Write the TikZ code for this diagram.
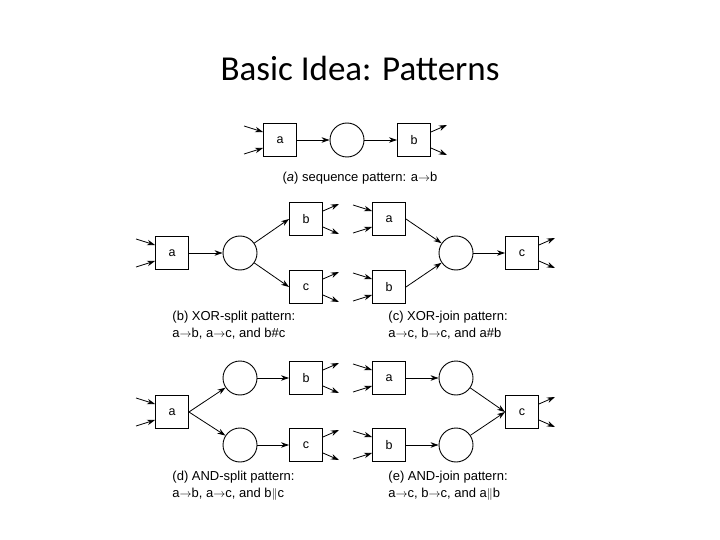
\documentclass[tikz,border=0pt]{standalone}
\usepackage{fontspec}
\setmainfont{Liberation Sans}
\newfontfamily\titlefont{Carlito}
\usetikzlibrary{arrows.meta}

\begin{document}
\begin{tikzpicture}[x=1pt,y=1pt,yscale=-1,line width=0.9pt,
  trans/.style={draw,minimum size=33pt,inner sep=0pt,font=\fontsize{12.5}{14}\selectfont},
  place/.style={draw,circle,minimum size=34pt,inner sep=0pt},
  arr/.style={-{Stealth[length=8pt,width=5.5pt]},line width=0.8pt},
  captext/.style={font=\fontsize{13}{17}\selectfont,align=left,anchor=north west,inner sep=0pt}]
\useasboundingbox (0,0) rectangle (720,540);

% Title
\node[font=\titlefont\fontsize{35}{40}\selectfont] (title) at (360,68) {Basic Idea: Patterns};

% (a) sequence
\node[trans] (sa) at (280,140) {a};
\node[place] (sp) at (347,140) {};
\node[trans] (sb) at (414,140) {b};
\draw[arr] (sa) -- (sp);
\draw[arr] (sp) -- (sb);
\node[font=\fontsize{13}{16}\selectfont] (capa) at (360,178) {(\textit{a}) sequence pattern: a$\rightarrow$b};

% (b) XOR-split
\node[trans] (xa) at (172,253) {a};
\node[place] (xp) at (240,253) {};
\node[trans] (xb) at (306,219) {b};
\node[trans] (xc) at (306,287) {c};
\draw[arr] (xa) -- (xp);
\draw[arr] (xp) -- (xb.west);
\draw[arr] (xp) -- (xc.west);
\node[captext] (capb) at (172,311) {(b) XOR-split pattern:\\ a$\rightarrow$b, a$\rightarrow$c, and b\#c};

% (c) XOR-join
\node[trans] (ja) at (389,219) {a};
\node[trans] (jb) at (389,287) {b};
\node[place] (jp) at (456,253) {};
\node[trans] (jc) at (522,253) {c};
\draw[arr] (ja.east) -- (jp);
\draw[arr] (jb.east) -- (jp);
\draw[arr] (jp) -- (jc);
\node[captext] (capc) at (388,311) {(c) XOR-join pattern:\\ a$\rightarrow$c, b$\rightarrow$c, and a\#b};

% (d) AND-split
\node[trans] (da) at (172,412) {a};
\node[place] (dp1) at (240,378) {};
\node[place] (dp2) at (240,445) {};
\node[trans] (db) at (306,378) {b};
\node[trans] (dc) at (306,445) {c};
\draw[arr] (da.east) -- (dp1);
\draw[arr] (da.east) -- (dp2);
\draw[arr] (dp1) -- (db);
\draw[arr] (dp2) -- (dc);
\node[captext] (capd) at (172,471) {(d) AND-split pattern:\\ a$\rightarrow$b, a$\rightarrow$c, and b$\|$c};

% (e) AND-join
\node[trans] (ea) at (389,378) {a};
\node[trans] (eb) at (389,445) {b};
\node[place] (ep1) at (456,378) {};
\node[place] (ep2) at (456,445) {};
\node[trans] (ec) at (522,412) {c};
\draw[arr] (ea) -- (ep1);
\draw[arr] (eb) -- (ep2);
\draw[arr] (ep1) -- (ec.west);
\draw[arr] (ep2) -- (ec.west);
\node[captext] (cape) at (388,471) {(e) AND-join pattern:\\ a$\rightarrow$c, b$\rightarrow$c, and a$\|$b};

% loose inputs and outputs
\foreach \n in {sa,xa,ja,jb,da,ea,eb}{
  \draw[arr] ([shift={(-19,-14)}]\n.west) -- ([yshift=-8]\n.west);
  \draw[arr] ([shift={(-19,14)}]\n.west) -- ([yshift=8]\n.west);
}
\foreach \n in {sb,xb,xc,jc,db,dc,ec}{
  \draw[arr] ([yshift=-8]\n.east) -- ([shift={(16,-15)}]\n.east);
  \draw[arr] ([yshift=8]\n.east) -- ([shift={(16,15)}]\n.east);
}
\end{tikzpicture}
\end{document}
